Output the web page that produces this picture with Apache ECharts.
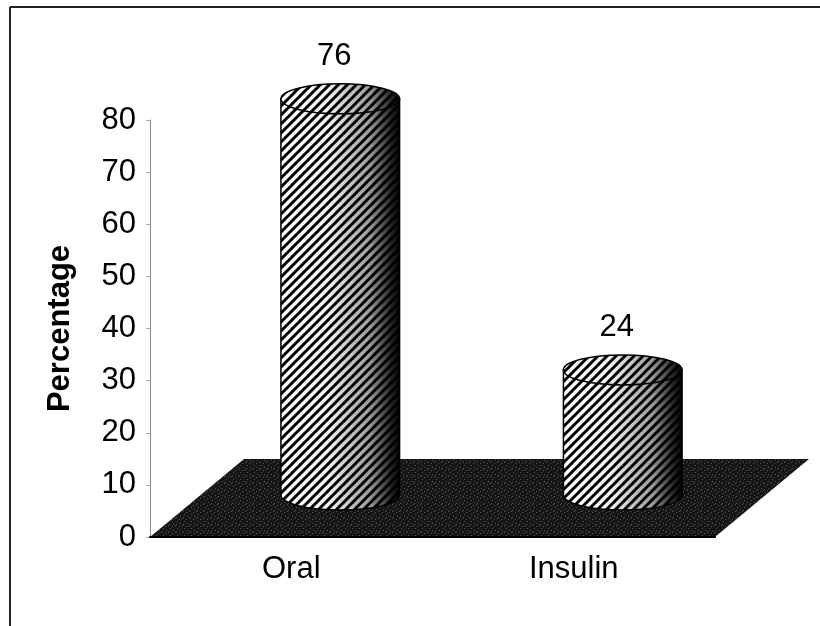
<!DOCTYPE html>
<html>
<head>
<meta charset="utf-8">
<script src="https://cdn.jsdelivr.net/npm/echarts@6/dist/echarts.min.js"></script>
<style>
    html, body { margin: 0; padding: 0; background: #fff; }
    #chart { width: 820px; height: 626px; }
</style>
</head>
<body>
<div id="chart"></div>
<script>
const categories = ["Oral", "Insulin"];
const percentages = [76, 24];

const FONT = "Liberation Sans, Arial, sans-serif";
// 3D look: the floor goes back by FLOOR_DX/FLOOR_DY, cylinders sit half way
const FLOOR_DX = 94, FLOOR_DY = -78;
const DEPTH_DX = 49, DEPTH_DY = -42;

// hatched fill "////"
function hatch() {
    const c = document.createElement("canvas");
    c.width = 9; c.height = 9;
    const g = c.getContext("2d");
    g.fillStyle = "#fff";
    g.fillRect(0, 0, 9, 9);
    g.strokeStyle = "#000";
    g.lineWidth = 3;
    [-9, 0, 9].forEach(function (o) {
        g.beginPath();
        g.moveTo(o - 1, 10);
        g.lineTo(o + 10, -1);
        g.stroke();
    });
    return c;
}

// speckled dark floor
function speckle() {
    const c = document.createElement("canvas");
    c.width = 7; c.height = 7;
    const g = c.getContext("2d");
    g.fillStyle = "#161616";
    g.fillRect(0, 0, 7, 7);
    g.fillStyle = "#555";
    [[0, 0], [4, 1], [2, 3], [5, 5], [1, 6]].forEach(function (p) {
        g.fillRect(p[0], p[1], 1, 1);
    });
    return c;
}

const hatchImg = hatch();
const floorImg = speckle();

const shade = {
    type: "linear", x: 0, y: 0, x2: 1, y2: 0,
    colorStops: [
        { offset: 0, color: "rgba(0,0,0,0)" },
        { offset: 0.4, color: "rgba(0,0,0,0.05)" },
        { offset: 0.75, color: "rgba(0,0,0,0.4)" },
        { offset: 0.92, color: "rgba(0,0,0,0.85)" },
        { offset: 1, color: "rgba(0,0,0,1)" },
    ],
};

function renderFloor(params, api) {
    const band = api.size([1, 0])[0];
    const first = api.coord([0, 0]);
    const last = api.coord([categories.length - 1, 0]);
    const x0 = first[0] - band / 2, x1 = last[0] + band / 2, y = first[1];
    return {
        type: "polygon",
        shape: { points: [[x0, y], [x1, y], [x1 + FLOOR_DX, y + FLOOR_DY], [x0 + FLOOR_DX, y + FLOOR_DY]] },
        style: { fill: { image: floorImg, repeat: "repeat" } },
        z2: 1,
    };
}

function renderCylinder(params, api) {
    const idx = api.value(0);
    const band = api.size([1, 0])[0];
    const top = api.coord([idx, api.value(1)]);
    const base = api.coord([idx, 0]);
    const cx = top[0] + DEPTH_DX;
    const rx = band * 0.21, ry = 15;
    const yt = top[1] + DEPTH_DY, yb = base[1] + DEPTH_DY;
    const x0 = cx - rx, x1 = cx + rx;
    const body = "M" + x0 + " " + yt + " L" + x0 + " " + yb +
        " A" + rx + " " + ry + " 0 0 0 " + x1 + " " + yb +
        " L" + x1 + " " + yt + " Z";
    return {
        type: "group",
        children: [
            { type: "path", shape: { pathData: body }, style: { fill: { image: hatchImg, repeat: "repeat" } } },
            { type: "path", shape: { pathData: body }, style: { fill: shade, stroke: "#000", lineWidth: 1.5 } },
            { type: "ellipse", shape: { cx: cx, cy: yt, rx: rx, ry: ry }, style: { fill: { image: hatchImg, repeat: "repeat" } } },
            { type: "ellipse", shape: { cx: cx, cy: yt, rx: rx, ry: ry }, style: { fill: shade, stroke: "#000", lineWidth: 1.5 } },
            {
                type: "text",
                style: {
                    x: cx - 6, y: yt - ry - 27, text: String(api.value(1)),
                    fontFamily: FONT, fontSize: 31, fill: "#000",
                    align: "center", verticalAlign: "middle",
                },
            },
        ],
        z2: 5,
    };
}

const chart = echarts.init(document.getElementById("chart"));
chart.setOption({
    animation: false,
    backgroundColor: "#fff",
    grid: { left: 150, right: 105, top: 120, bottom: 89 },
    graphic: [
        { type: "line", shape: { x1: 10, y1: 7, x2: 820, y2: 7 }, style: { stroke: "#222", lineWidth: 2 } },
        { type: "line", shape: { x1: 10, y1: 7, x2: 10, y2: 626 }, style: { stroke: "#222", lineWidth: 2 } },
    ],
    xAxis: {
        type: "category",
        data: categories,
        axisLine: { lineStyle: { color: "#000", width: 2 } },
        axisTick: { length: 7, lineStyle: { color: "#000" } },
        axisLabel: { fontFamily: FONT, fontSize: 31, color: "#000", margin: 17 },
        z: 10,
    },
    yAxis: {
        type: "value",
        min: 0, max: 80, interval: 10,
        name: "Percentage",
        nameLocation: "middle",
        nameRotate: 90,
        nameGap: 74,
        nameTextStyle: { fontFamily: FONT, fontSize: 31, fontWeight: "bold", color: "#000" },
        axisLine: { show: true, lineStyle: { color: "#888", width: 1 } },
        axisTick: { show: true, inside: false, length: 4, lineStyle: { color: "#aaa" } },
        axisLabel: { fontFamily: FONT, fontSize: 31, color: "#000", margin: 14 },
        splitLine: { show: false },
    },
    series: [
        { type: "custom", renderItem: renderFloor, data: [0], z: 1 },
        {
            type: "custom",
            renderItem: renderCylinder,
            data: percentages.map(function (v, i) { return [i, v]; }),
            z: 2,
        },
    ],
});
</script>
</body>
</html>
